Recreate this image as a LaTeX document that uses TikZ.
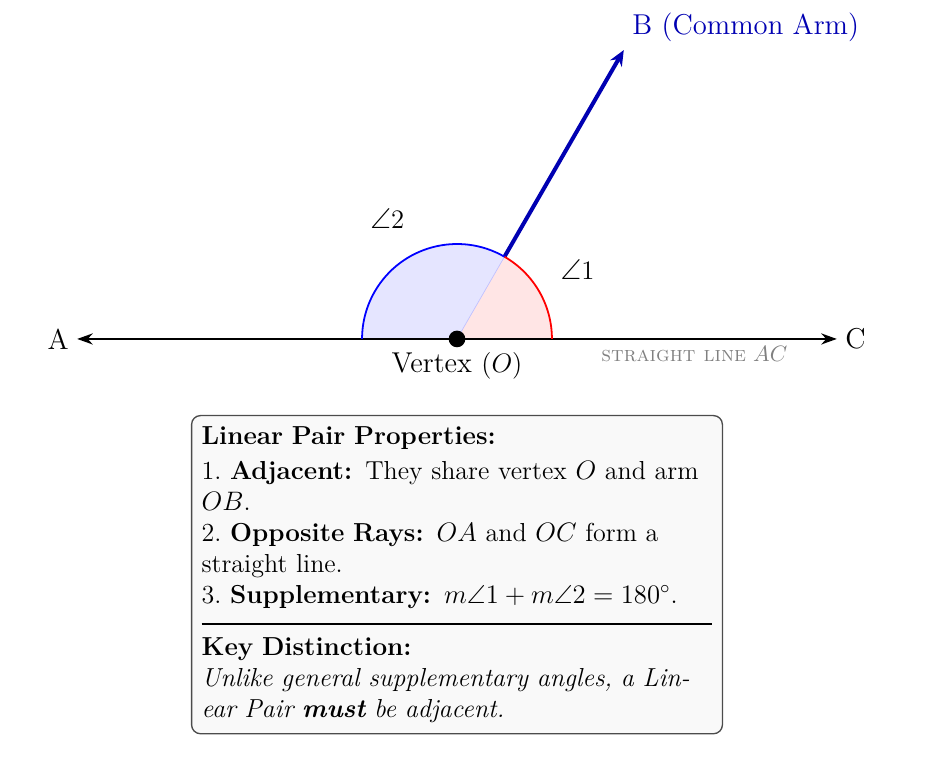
\documentclass[11pt,tikz,border=0pt]{standalone}
\usepackage{amsmath,amssymb}
\usetikzlibrary{arrows.meta}
\begin{document}
\begin{tikzpicture}[
  lbl/.style={font=\fontsize{12.9}{15}\selectfont},
  infobox/.style={draw=black!70, fill=gray!5, rounded corners=4pt, text width=8.07cm,
     inner xsep=4.5pt, inner ysep=5pt, align=left, anchor=north, line width=0.6pt,
     font=\fontsize{11.7}{13.9}\selectfont}
]
\useasboundingbox (-7.22,-6.68) rectangle (7.52,5.355);
\coordinate (O) at (0,0);
\coordinate (A) at (-6,0);
\coordinate (C) at (6,0);
\coordinate (B) at (60:5.27);
\coordinate (P1) at (1.5,0);
\coordinate (P2) at (60:1.5);
\coordinate (P3) at (-1.5,0);
% sectors
\fill[red!10] (O) -- (P1) arc (0:60:1.5) -- cycle;
\fill[blue!10] (O) -- (P2) arc (60:180:1.5) -- cycle;
\draw[blue!25, line width=0.3pt] (O) -- (P2);
% straight line
\draw[thick, {Stealth[length=7pt,width=5pt]}-{Stealth[length=7pt,width=5pt]}] (A) -- (C);
% common arm
\draw[line width=1.8pt, blue!70!black, -{Stealth[length=7pt,width=6pt]}] (P2) -- (B);
% arcs
\draw[red, thick] (P1) arc (0:60:1.5);
\draw[blue, thick] (P2) arc (60:180:1.5);
% vertex dot
\node (dot) [circle, fill=black, inner sep=0pt, minimum size=7.5pt] at (O) {};
% labels
\node (lblA) [lbl, left] at (A) {A};
\node (lblC) [lbl, right] at (C) {C};
\node (lblB) [lbl, above right, text=blue!70!black] at (B) {B (Common Arm)};
\node (lblO) [lbl, below=-1.5pt] at (dot.south) {Vertex $(O)$};
\node (ang1) [lbl] at (30:2.2) {$\angle 1$};
\node (ang2) [lbl] at (120:2.2) {$\angle 2$};
\node (lineAC) [text=gray, font=\fontsize{9.6}{11}\selectfont] at (3.75,-0.24) {\textsc{straight line} $AC$};
% info box
\node (box) [infobox] at (0,-1.2) {%
\textbf{Linear Pair Properties:}\\[2pt]
1.~\textbf{Adjacent:} They share vertex $O$ and arm $OB$.\\
2.~\textbf{Opposite Rays:} $OA$ and $OC$ form a straight line.\\
3.~\textbf{Supplementary:} $m\angle 1 + m\angle 2 = 180^\circ$.\\[-4.5pt]
\rule{\linewidth}{0.5pt}\\[0pt]
\textbf{Key Distinction:}\\
\textit{Unlike general supplementary angles, a Linear Pair \textbf{must} be adjacent.}\\[-3pt]
};
\end{tikzpicture}
\end{document}
